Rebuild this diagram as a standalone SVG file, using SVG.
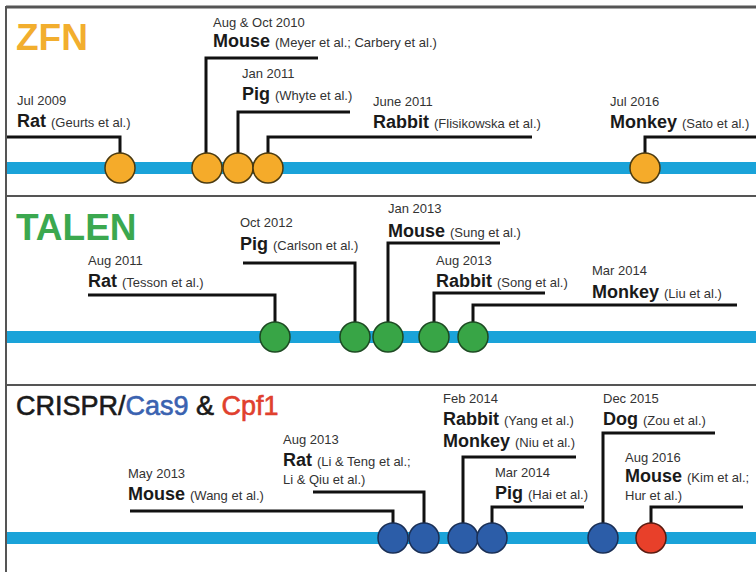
<svg xmlns="http://www.w3.org/2000/svg" width="756" height="572" viewBox="0 0 756 572">
<style>
text{font-family:"Liberation Sans",Arial,sans-serif;}
.d{font-size:13px;fill:#333;}
.n{font-size:18px;font-weight:bold;fill:#1a1a1a;}
.r{font-size:13px;font-weight:normal;fill:#333;}
.tl{stroke:#1aa3d9;stroke-width:12;fill:none;}
.c{fill:none;stroke:#111;stroke-width:3;}
.z{fill:#f5ab2a;stroke:#4a3a10;stroke-width:1.5;}
.t{fill:#38a546;stroke:#1d4a22;stroke-width:1.5;}
.b{fill:#2c5da8;stroke:#1a2f55;stroke-width:1.5;}
.rd{fill:#e8402a;stroke:#5a1a10;stroke-width:1.5;}
.fr{stroke:#555;fill:none;}
</style>
<rect width="756" height="572" fill="#fff"/>
<g id="frame">
<line class="fr" x1="6" y1="7" x2="756" y2="7" stroke-width="3" stroke="#888"/>
<line class="fr" x1="6" y1="6" x2="6" y2="572" stroke-width="2"/>
<line class="fr" x1="6" y1="196" x2="756" y2="196" stroke-width="2"/>
<line class="fr" x1="6" y1="385" x2="756" y2="385" stroke-width="2"/>
</g>
<g id="timelines">
<line class="tl" x1="7" y1="168" x2="756" y2="168"/>
<line class="tl" x1="7" y1="337" x2="756" y2="337"/>
<line class="tl" x1="7" y1="538" x2="756" y2="538"/>
</g>
<g id="titles">
<text x="16" y="50" font-size="37" font-weight="bold" fill="#f2ae2e">ZFN</text>
<text x="16" y="240" font-size="37" font-weight="bold" fill="#3ba84f">TALEN</text>
<text x="16" y="415" font-size="27" stroke-width="0.6"><tspan fill="#1a1a1a" stroke="#1a1a1a">CRISPR/</tspan><tspan fill="#3a62b0" stroke="#3a62b0">Cas9</tspan><tspan fill="#1a1a1a" stroke="#1a1a1a"> &amp; </tspan><tspan fill="#e0402e" stroke="#e0402e">Cpf1</tspan></text>
</g>
<g id="connectors">
<polyline class="c" points="7,137 120,137 120,160"/>
<polyline class="c" points="206,160 206,58 318,58"/>
<polyline class="c" points="238,160 238,112 350,112"/>
<polyline class="c" points="268,160 268,137 532,137"/>
<polyline class="c" points="645,160 645,137 756,137"/>
<polyline class="c" points="88,295 275,295 275,330"/>
<polyline class="c" points="243,263 355,263 355,330"/>
<polyline class="c" points="388,330 388,243 500,243"/>
<polyline class="c" points="434,330 434,293 545,293"/>
<polyline class="c" points="473,330 473,305 737,305"/>
<polyline class="c" points="130,511 393,511 393,530"/>
<polyline class="c" points="313,492 424,492 424,530"/>
<polyline class="c" points="463,530 463,457 576,457"/>
<polyline class="c" points="492,530 492,507 584,507"/>
<polyline class="c" points="603,530 603,433 715,433"/>
<polyline class="c" points="651,530 651,507 743,507"/>
</g>
<g id="zfn-rat"><circle class="z" cx="120" cy="168" r="15"/><text class="d" x="17" y="105">Jul 2009</text><text class="n" x="17" y="127">Rat <tspan class="r">(Geurts et al.)</tspan></text></g>
<g id="zfn-mouse"><circle class="z" cx="207" cy="168" r="15"/><text class="d" x="213" y="27">Aug &amp; Oct 2010</text><text class="n" x="213" y="47">Mouse <tspan class="r">(Meyer et al.; Carbery et al.)</tspan></text></g>
<g id="zfn-pig"><circle class="z" cx="238" cy="168" r="15"/><text class="d" x="242" y="78">Jan 2011</text><text class="n" x="242" y="100">Pig <tspan class="r">(Whyte et al.)</tspan></text></g>
<g id="zfn-rabbit"><circle class="z" cx="268" cy="168" r="15"/><text class="d" x="373" y="106">June 2011</text><text class="n" x="373" y="128">Rabbit <tspan class="r">(Flisikowska et al.)</tspan></text></g>
<g id="zfn-monkey"><circle class="z" cx="645" cy="168" r="15"/><text class="d" x="610" y="106">Jul 2016</text><text class="n" x="610" y="128">Monkey <tspan class="r">(Sato et al.)</tspan></text></g>
<g id="talen-rat"><circle class="t" cx="275" cy="337" r="15"/><text class="d" x="88" y="265">Aug 2011</text><text class="n" x="88" y="287">Rat <tspan class="r">(Tesson et al.)</tspan></text></g>
<g id="talen-pig"><circle class="t" cx="355" cy="337" r="15"/><text class="d" x="240" y="227">Oct 2012</text><text class="n" x="240" y="250">Pig <tspan class="r">(Carlson et al.)</tspan></text></g>
<g id="talen-mouse"><circle class="t" cx="388" cy="337" r="15"/><text class="d" x="388" y="213">Jan 2013</text><text class="n" x="388" y="237">Mouse <tspan class="r">(Sung et al.)</tspan></text></g>
<g id="talen-rabbit"><circle class="t" cx="434" cy="337" r="15"/><text class="d" x="436" y="265">Aug 2013</text><text class="n" x="436" y="287">Rabbit <tspan class="r">(Song et al.)</tspan></text></g>
<g id="talen-monkey"><circle class="t" cx="473" cy="337" r="15"/><text class="d" x="592" y="275">Mar 2014</text><text class="n" x="592" y="298">Monkey <tspan class="r">(Liu et al.)</tspan></text></g>
<g id="crispr-mouse2013"><circle class="b" cx="393" cy="538" r="15"/><text class="d" x="128" y="478">May 2013</text><text class="n" x="128" y="500">Mouse <tspan class="r">(Wang et al.)</tspan></text></g>
<g id="crispr-rat"><circle class="b" cx="424" cy="538" r="15"/><text class="d" x="283" y="444">Aug 2013</text><text class="n" x="283" y="466">Rat <tspan class="r">(Li &amp; Teng et al.;</tspan></text><text class="r" x="283" y="484">Li &amp; Qiu et al.)</text></g>
<g id="crispr-rabbit-monkey"><circle class="b" cx="463" cy="538" r="15"/><text class="d" x="443" y="403">Feb 2014</text><text class="n" x="443" y="425">Rabbit <tspan class="r">(Yang et al.)</tspan></text><text class="n" x="443" y="447">Monkey <tspan class="r">(Niu et al.)</tspan></text></g>
<g id="crispr-pig"><circle class="b" cx="492" cy="538" r="15"/><text class="d" x="495" y="477">Mar 2014</text><text class="n" x="495" y="499">Pig <tspan class="r">(Hai et al.)</tspan></text></g>
<g id="crispr-dog"><circle class="b" cx="603" cy="538" r="15"/><text class="d" x="603" y="403">Dec 2015</text><text class="n" x="603" y="425">Dog <tspan class="r">(Zou et al.)</tspan></text></g>
<g id="cpf1-mouse"><circle class="rd" cx="651" cy="538" r="15"/><text class="d" x="625" y="462">Aug 2016</text><text class="n" x="625" y="482">Mouse <tspan class="r">(Kim et al.;</tspan></text><text class="r" x="625" y="500">Hur et al.)</text></g>
</svg>
